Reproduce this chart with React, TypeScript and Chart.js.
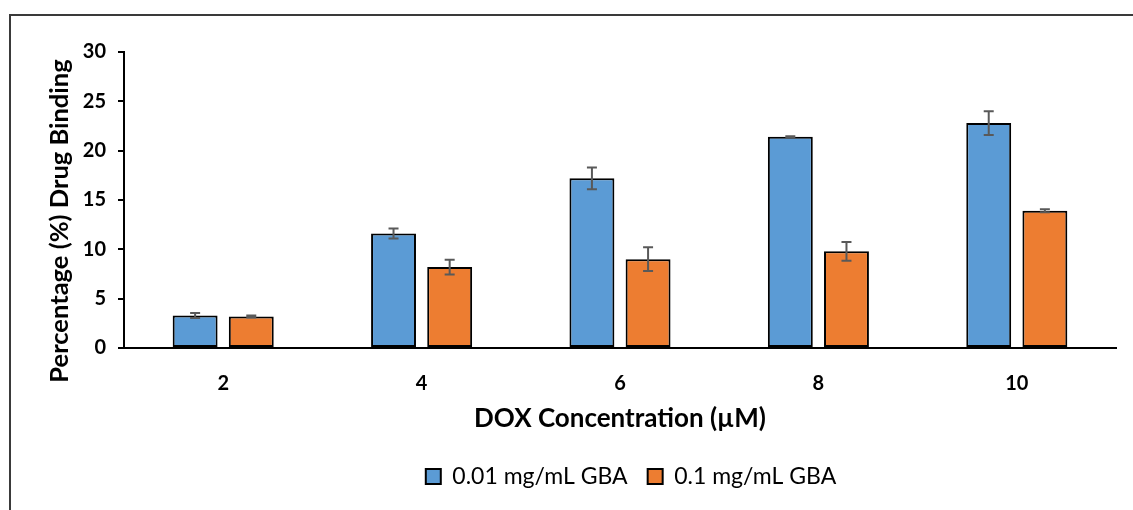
import React, { useEffect, useRef } from "react";
import { Chart, registerables } from "chart.js";

Chart.register(...registerables);

const categories = ["2", "4", "6", "8", "10"];
const seriesLabels = ["0.01 mg/mL GBA", "0.1 mg/mL GBA"];
const lowDose = [3.3, 11.6, 17.2, 21.4, 22.8];
const lowDoseErr = [0.25, 0.5, 1.1, 0.05, 1.2];
const highDose = [3.2, 8.2, 9.0, 9.8, 13.9];
const highDoseErr = [0.1, 0.75, 1.2, 0.95, 0.15];
const yTicks = [0, 5, 10, 15, 20, 25, 30];
const yTitle = "Percentage (%) Drug Binding";
const xTitle = "DOX Concentration (µM)";
const errors = [lowDoseErr, highDoseErr];

const FONT = "Lato, 'Liberation Sans', sans-serif";

const errorBarPlugin = {
  id: "errorBars",
  afterDatasetsDraw(chart: any) {
    const ctx = chart.ctx;
    const yScale = chart.scales.y;
    ctx.save();
    ctx.strokeStyle = "#595959";
    ctx.lineWidth = 2;
    chart.data.datasets.forEach((ds: any, di: number) => {
      const meta = chart.getDatasetMeta(di);
      meta.data.forEach((bar: any, i: number) => {
        const v = ds.data[i];
        const e = errors[di][i];
        const top = yScale.getPixelForValue(v + e);
        const bot = yScale.getPixelForValue(v - e);
        const x = bar.x;
        ctx.beginPath();
        ctx.moveTo(x, top);
        ctx.lineTo(x, bot);
        ctx.moveTo(x - 5, top);
        ctx.lineTo(x + 5, top);
        ctx.moveTo(x - 5, bot);
        ctx.lineTo(x + 5, bot);
        ctx.stroke();
      });
    });
    ctx.restore();
  },
};

const framePlugin = {
  id: "frame",
  afterLayout(chart: any) {
    const lg = chart.legend;
    if (lg) {
      lg.left += 73;
      lg.right += 73;
    }
  },
  beforeDraw(chart: any) {
    const ctx = chart.ctx;
    ctx.save();
    ctx.fillStyle = "#ffffff";
    ctx.fillRect(0, 0, chart.width, chart.height);
    ctx.fillStyle = "#3a3a3a";
    ctx.fillRect(9, 14, chart.width - 9, 2);
    ctx.fillRect(9, 14, 2, chart.height - 14);
    ctx.restore();
  },
  afterDraw(chart: any) {
    const ctx = chart.ctx;
    const area = chart.chartArea;
    ctx.save();
    ctx.translate(60, (area.top + area.bottom) / 2 + 21);
    ctx.rotate(-Math.PI / 2);
    ctx.fillStyle = "#000";
    ctx.font = `bold 25.5px ${FONT}`;
    ctx.textAlign = "center";
    ctx.textBaseline = "middle";
    ctx.fillText(yTitle, 0, 0);
    ctx.restore();
  },
};

export default function App() {
  const ref = useRef<HTMLCanvasElement | null>(null);

  useEffect(() => {
    if (!ref.current) return;
    const chart = new Chart(ref.current, {
      type: "bar",
      data: {
        labels: categories,
        datasets: [
          {
            label: seriesLabels[0],
            data: lowDose,
            backgroundColor: "#5B9BD5",
            borderColor: "#000000",
            borderWidth: 2,
            borderSkipped: false,
          },
          {
            label: seriesLabels[1],
            data: highDose,
            backgroundColor: "#ED7D31",
            borderColor: "#000000",
            borderWidth: 2,
            borderSkipped: false,
          },
        ],
      },
      options: {
        animation: false,
        responsive: true,
        maintainAspectRatio: false,
        categoryPercentage: 0.566,
        barPercentage: 0.8,
        layout: { padding: { left: 0, right: 17, top: 52, bottom: 12 } },
        plugins: {
          legend: {
            position: "bottom",
            labels: {
              color: "#000",
              font: { family: FONT, size: 23 },
              boxWidth: 15,
              boxHeight: 15,
              padding: 20,
            },
          },
          tooltip: { enabled: false },
        },
        scales: {
          x: {
            grid: { display: false },
            border: { display: true, color: "#000", width: 2 },
            ticks: {
              color: "#000",
              font: { family: FONT, size: 20, weight: "bold" },
              padding: 16,
            },
            title: {
              display: true,
              text: xTitle,
              color: "#000",
              font: { family: FONT, size: 26, weight: "bold" },
              padding: { top: 0, bottom: 11 },
            },
            afterFit(scale: any) {
              scale.height = 97;
            },
          },
          y: {
            min: 0,
            max: 30,
            afterBuildTicks(scale: any) {
              scale.ticks = yTicks.map((v) => ({ value: v }));
            },
            grid: {
              display: true,
              drawOnChartArea: false,
              drawTicks: true,
              tickLength: 6,
              color: "#000",
              lineWidth: 2,
            },
            border: { display: true, color: "#000", width: 2 },
            ticks: {
              color: "#000",
              font: { family: FONT, size: 20, weight: "bold" },
              padding: 12,
            },
            title: { display: false, text: yTitle },
            afterFit(scale: any) {
              scale.width = 124;
            },
          },
        },
      },
      plugins: [framePlugin, errorBarPlugin],
    });
    return () => chart.destroy();
  }, []);

  return (
    <div style={{ position: "fixed", left: 0, top: 0, width: 1133, height: 510, background: "#fff" }}>
      <canvas ref={ref} />
    </div>
  );
}
